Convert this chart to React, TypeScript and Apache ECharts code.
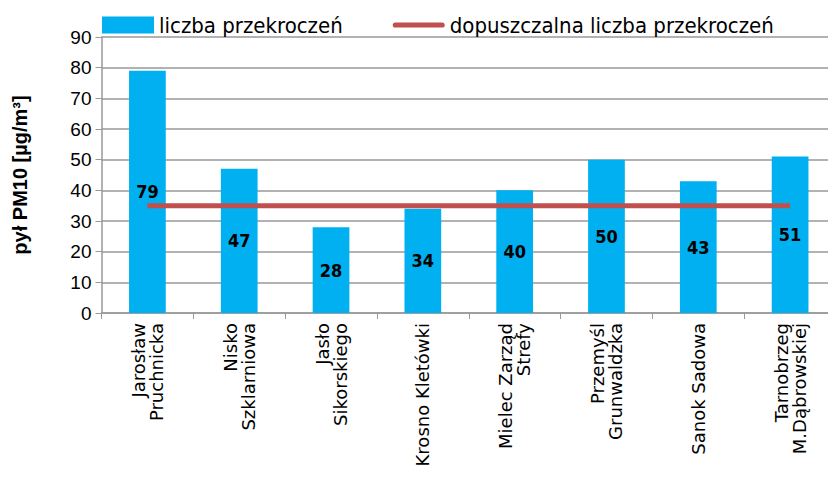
import React, { useEffect, useRef } from "react";
import * as echarts from "echarts";

const categories = [
  "Jarosław\nPruchnicka",
  "Nisko\nSzklarniowa",
  "Jasło\nSikorskiego",
  "Krosno Kletówki",
  "Mielec Zarząd\nStrefy",
  "Przemyśl\nGrunwaldzka",
  "Sanok Sadowa",
  "Tarnobrzeg\nM.Dąbrowskiej",
];
const exceedances = [79, 47, 28, 34, 40, 50, 43, 51];
const allowed = [35, 35, 35, 35, 35, 35, 35, 35];
const seriesNames = ["liczba przekroczeń", "dopuszczalna liczba przekroczeń"];
const yAxisName = "pył PM10 [µg/m³]";

export default function App() {
  const ref = useRef<HTMLDivElement>(null);
  useEffect(() => {
    if (!ref.current) return;
    const chart = echarts.init(ref.current, null, { renderer: "svg" });
    chart.setOption({
      animation: false,
      backgroundColor: "#ffffff",
      legend: {
        left: 97,
        top: 9,
        itemGap: 50,
        itemWidth: 52,
        itemHeight: 17,
        textStyle: { fontFamily: "DejaVu Sans Condensed", fontSize: 22, color: "#000" },
        data: [
          { name: seriesNames[0], icon: "rect" },
          { name: seriesNames[1], icon: "path://M5,0 L95,0 A5,5 0 0 1 95,10 L5,10 A5,5 0 0 1 5,0 Z" },
        ],
      },
      grid: { left: 101.5, top: 37, width: 745, height: 276, containLabel: false },
      xAxis: {
        type: "category",
        data: categories,
        boundaryGap: true,
        axisLine: { lineStyle: { color: "#999", width: 1.5 } },
        axisTick: { show: true, alignWithLabel: false, length: 6, lineStyle: { color: "#999" } },
        axisLabel: {
          rotate: 90,
          interval: 0,
          margin: 10,
          fontFamily: "DejaVu Sans",
          fontSize: 18,
          color: "#000",
          lineHeight: 18,
        },
      },
      yAxis: {
        type: "value",
        min: 0,
        max: 90,
        interval: 10,
        name: yAxisName,
        nameLocation: "middle",
        nameRotate: 90,
        nameGap: 72,
        nameTextStyle: { fontFamily: "Liberation Sans", fontWeight: "bold", fontSize: 20, color: "#000" },
        axisLine: { show: true, lineStyle: { color: "#999", width: 1.5 } },
        axisTick: { show: true, length: 6, lineStyle: { color: "#999" } },
        axisLabel: { fontFamily: "Liberation Sans", fontSize: 19, color: "#000", margin: 10 },
        splitLine: { show: true, lineStyle: { color: "#999", width: 1.5 } },
      },
      series: [
        {
          name: seriesNames[0],
          type: "bar",
          data: exceedances,
          barWidth: "40%",
          itemStyle: { color: "#00B0F0" },
          label: {
            show: true,
            position: "inside",
            fontFamily: "DejaVu Sans Condensed",
            fontWeight: "bold",
            fontSize: 18,
            color: "#000",
          },
        },
        {
          name: seriesNames[1],
          type: "line",
          data: allowed,
          symbol: "none",
          itemStyle: { color: "#C0504D" },
          lineStyle: { color: "#C0504D", width: 5 },
        },
      ],
    });
    return () => chart.dispose();
  }, []);
  return <div ref={ref} style={{ width: 836, height: 478, margin: -8 }} />;
}
